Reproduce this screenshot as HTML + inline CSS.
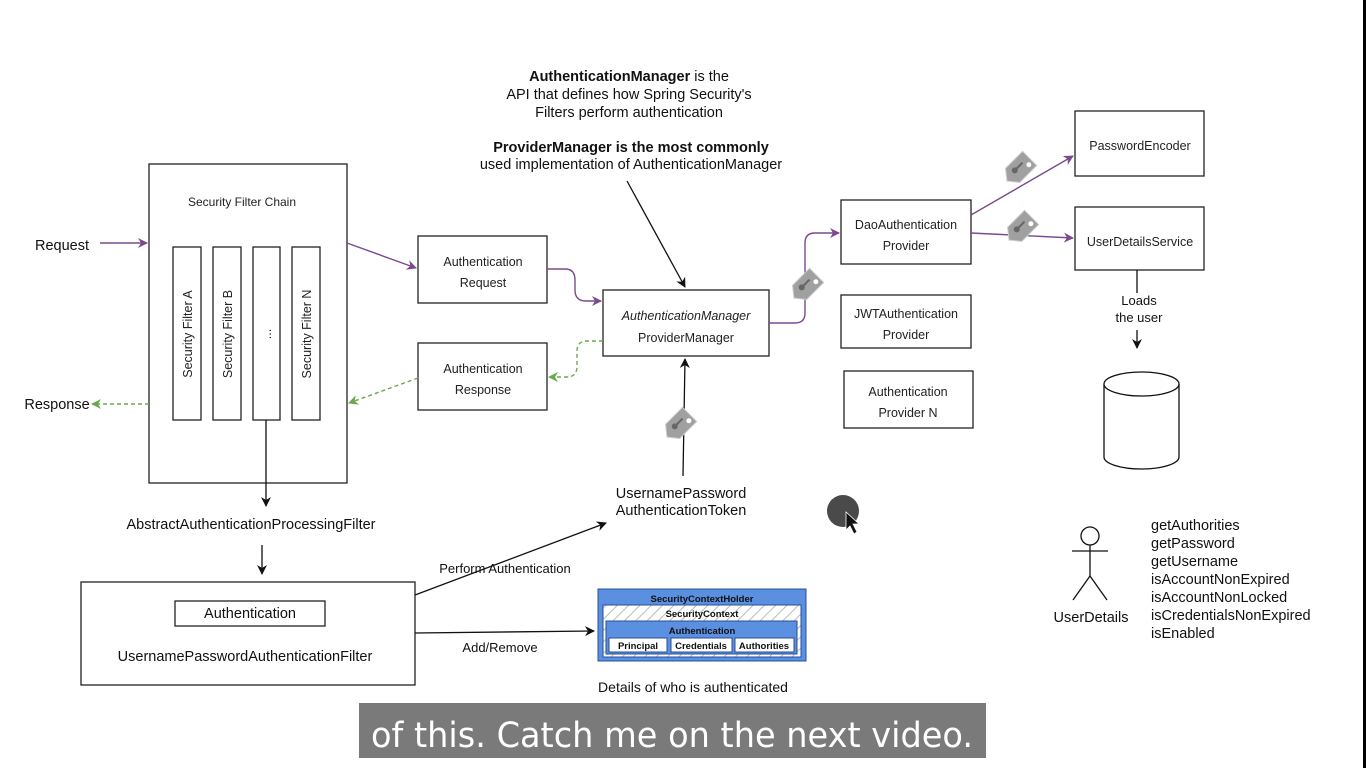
<!DOCTYPE html>
<html><head><meta charset="utf-8"><style>
html,body{margin:0;padding:0;background:#fff;}
svg{display:block;font-family:"Liberation Sans",Arial,sans-serif;}
</style></head><body>
<svg width="1366" height="768" viewBox="0 0 1366 768" xmlns="http://www.w3.org/2000/svg">
<defs>
<marker id="ab" markerWidth="10" markerHeight="10" refX="9" refY="5" orient="auto" markerUnits="userSpaceOnUse"><path d="M0,0 L10,5 L0,10 L3,5 z" fill="#111"/></marker>
<marker id="ap" markerWidth="10" markerHeight="10" refX="9" refY="5" orient="auto" markerUnits="userSpaceOnUse"><path d="M0,0 L10,5 L0,10 L3,5 z" fill="#7b4a8e"/></marker>
<marker id="ag" markerWidth="10" markerHeight="10" refX="9" refY="5" orient="auto" markerUnits="userSpaceOnUse"><path d="M0,0 L10,5 L0,10 L3,5 z" fill="#6aa84f"/></marker>
<pattern id="hatch" width="8" height="8" patternUnits="userSpaceOnUse" patternTransform="rotate(45)"><rect width="8" height="8" fill="#fff"/><line x1="0" y1="0" x2="0" y2="8" stroke="#bbb" stroke-width="2"/></pattern>
<g id="tag"><path d="M-10,-15 L10,-15 L10,9 L0,17 L-10,9 z" fill="#a0a0a0" stroke="#ccc"/><circle cx="4" cy="-10" r="2.5" fill="#fff"/><circle cx="-2" cy="4" r="3" fill="#666"/><line x1="-2" y1="4" x2="-2" y2="-7" stroke="#666" stroke-width="2"/></g>
</defs>
<rect x="1363" y="0" width="3" height="768" fill="#000"/>
<g fill="#111" font-size="14.5" text-anchor="middle">
<text x="629" y="81"><tspan font-weight="bold">AuthenticationManager</tspan> is the</text>
<text x="629" y="99">API that defines how Spring Security's</text>
<text x="629" y="117">Filters perform authentication</text>
<text x="631" y="152"><tspan font-weight="bold">ProviderManager is the most commonly</tspan></text>
<text x="631" y="169">used implementation of AuthenticationManager</text>
</g>
<g fill="none" stroke="#222" stroke-width="1.3">
<rect x="149" y="164" width="198" height="319"/>
<rect x="173" y="247" width="28" height="173"/>
<rect x="213" y="247" width="28" height="173"/>
<rect x="253" y="247" width="27" height="173"/>
<rect x="292" y="247" width="28" height="173"/>
<rect x="418" y="236" width="129" height="67"/>
<rect x="418" y="343" width="129" height="67"/>
<rect x="603" y="290" width="166" height="66"/>
<rect x="841" y="200" width="130" height="64"/>
<rect x="841" y="295" width="130" height="53"/>
<rect x="844" y="371" width="129" height="57"/>
<rect x="1075" y="111" width="129" height="65"/>
<rect x="1075" y="207" width="129" height="63"/>
<rect x="81" y="582" width="334" height="103"/>
<rect x="175" y="601" width="150" height="25"/>
</g>
<g font-size="12.5" fill="#222" text-anchor="middle">
<text x="242" y="206" font-size="12">Security Filter Chain</text>
<text transform="translate(192,334) rotate(-90)">Security Filter A</text>
<text transform="translate(232,334) rotate(-90)">Security Filter B</text>
<text transform="translate(271,334) rotate(-90)">...</text>
<text transform="translate(311,334) rotate(-90)">Security Filter N</text>
<text x="483" y="266">Authentication</text><text x="483" y="287">Request</text>
<text x="483" y="373">Authentication</text><text x="483" y="394">Response</text>
<text x="686" y="320" font-style="italic">AuthenticationManager</text><text x="686" y="342">ProviderManager</text>
<text x="906" y="229">DaoAuthentication</text><text x="906" y="250">Provider</text>
<text x="906" y="318">JWTAuthentication</text><text x="906" y="339">Provider</text>
<text x="908" y="396">Authentication</text><text x="908" y="417">Provider N</text>
<text x="1140" y="150">PasswordEncoder</text>
<text x="1140" y="246">UserDetailsService</text>
</g>
<g font-size="14.5" fill="#111" text-anchor="middle">
<text x="62" y="250">Request</text>
<text x="57" y="409">Response</text>
<text x="251" y="529">AbstractAuthenticationProcessingFilter</text>
<text x="250" y="618">Authentication</text>
<text x="245" y="661">UsernamePasswordAuthenticationFilter</text>
<text x="505" y="573" font-size="13">Perform Authentication</text>
<text x="500" y="652" font-size="13">Add/Remove</text>
<text x="681" y="498">UsernamePassword</text>
<text x="681" y="515">AuthenticationToken</text>
<text x="693" y="692" font-size="14">Details of who is authenticated</text>
<text x="1139" y="305" font-size="13">Loads</text>
<text x="1139" y="322" font-size="13">the user</text>
<text x="1091" y="622">UserDetails</text>
</g>
<g font-size="14.5" fill="#111">
<text x="1151" y="530">getAuthorities</text>
<text x="1151" y="548">getPassword</text>
<text x="1151" y="566">getUsername</text>
<text x="1151" y="584">isAccountNonExpired</text>
<text x="1151" y="602">isAccountNonLocked</text>
<text x="1151" y="620">isCredentialsNonExpired</text>
<text x="1151" y="638">isEnabled</text>
</g>
<g fill="none" stroke="#7b4a8e" stroke-width="1.4">
<path d="M100,243 L147,243" marker-end="url(#ap)"/>
<path d="M347,243 L416,268" marker-end="url(#ap)"/>
<path d="M547,269 L565,269 Q575,269 575,280 L575,290 Q575,301 586,301 L601,301" marker-end="url(#ap)"/>
<path d="M769,323 L795,323 Q805,323 805,313 L805,243 Q805,233 815,233 L839,233" marker-end="url(#ap)"/>
<path d="M971,215 L1073,156" marker-end="url(#ap)"/>
<path d="M971,233 L1073,238" marker-end="url(#ap)"/>
</g>
<g fill="none" stroke="#6aa84f" stroke-width="1.4" stroke-dasharray="4,3">
<path d="M603,341 L587,341 Q577,341 577,351 L577,366 Q577,377 567,377 L549,377" marker-end="url(#ag)"/>
<path d="M418,378 L349,403" marker-end="url(#ag)"/>
<path d="M149,404 L92,404" marker-end="url(#ag)"/>
</g>
<g fill="none" stroke="#111" stroke-width="1.3">
<path d="M627,181 L685,287" marker-end="url(#ab)"/>
<path d="M683,476 L685,359" marker-end="url(#ab)"/>
<path d="M266,420 L266,506" marker-end="url(#ab)"/>
<path d="M262,545 L262,574" marker-end="url(#ab)"/>
<path d="M415,595 L606,523" marker-end="url(#ab)"/>
<path d="M415,633 L594,631" marker-end="url(#ab)"/>
<path d="M1137,270 L1137,293"/>
<path d="M1137,330 L1137,348" marker-end="url(#ab)"/>
</g>
<use href="#tag" transform="translate(679,425) rotate(45)"/>
<use href="#tag" transform="translate(806,286) rotate(45)"/>
<use href="#tag" transform="translate(1019,169) rotate(45)"/>
<use href="#tag" transform="translate(1021,228) rotate(45)"/>
<g fill="#fff" stroke="#111" stroke-width="1.3">
<path d="M1104,384 L1104,457 A37.5,12 0 0 0 1179,457 L1179,384"/>
<ellipse cx="1141.5" cy="384" rx="37.5" ry="12"/>
</g>
<g fill="none" stroke="#111" stroke-width="1.3">
<circle cx="1090" cy="536" r="9"/>
<line x1="1090" y1="545" x2="1090" y2="576"/>
<line x1="1072" y1="551" x2="1108" y2="551"/>
<line x1="1090" y1="576" x2="1073" y2="600"/>
<line x1="1090" y1="576" x2="1107" y2="600"/>
</g>
<g font-size="9.5" font-weight="bold" text-anchor="middle" fill="#111">
<rect x="598" y="589" width="208" height="72" fill="#5b8fe0" stroke="#2a4f9a"/>
<text x="702" y="602">SecurityContextHolder</text>
<rect x="603" y="605" width="198" height="52" fill="url(#hatch)" stroke="#2a4f9a"/>
<text x="702" y="617">SecurityContext</text>
<rect x="606" y="621" width="191" height="33" fill="#5b8fe0" stroke="#2a4f9a"/>
<text x="702" y="634">Authentication</text>
<rect x="609" y="638" width="58" height="14" fill="#fff" stroke="#2a4f9a"/>
<text x="638" y="649">Principal</text>
<rect x="671" y="638" width="61" height="14" fill="#fff" stroke="#2a4f9a"/>
<text x="701" y="649">Credentials</text>
<rect x="735" y="638" width="59" height="14" fill="#fff" stroke="#2a4f9a"/>
<text x="764" y="649">Authorities</text>
</g>
<circle cx="843" cy="511" r="16" fill="#4a4a4a"/>
<path d="M846,512 L846,530 L850,526 L854,534 L857,532 L853,524 L859,524 z" fill="#111" stroke="#fff" stroke-width="0.8"/>
<rect x="359" y="703" width="627" height="55" fill="#7a7a7a"/>
<text x="672" y="747" font-size="35" fill="#fff" text-anchor="middle" font-family="'DejaVu Sans','Liberation Sans',sans-serif" textLength="602" lengthAdjust="spacingAndGlyphs">of this. Catch me on the next video.</text>
</svg>
</body></html>
